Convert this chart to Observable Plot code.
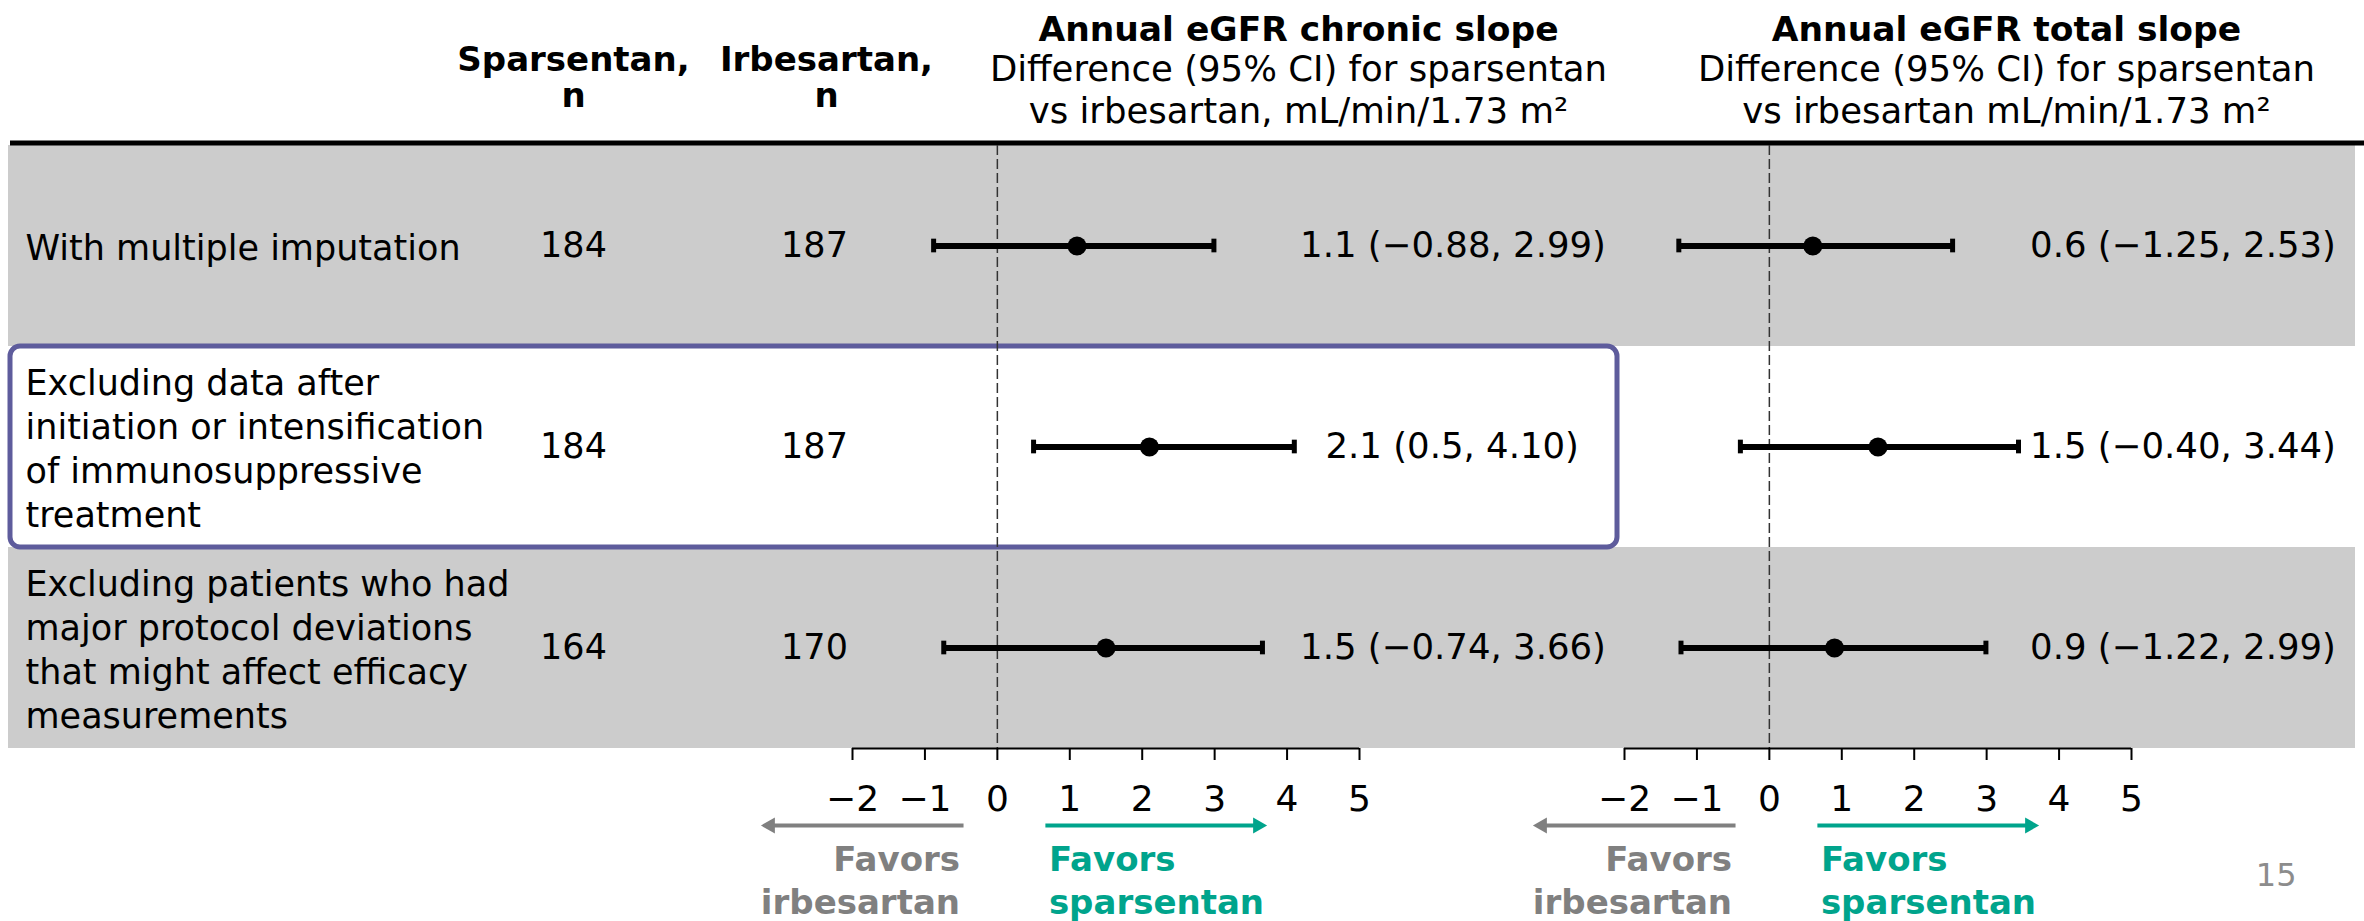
<!DOCTYPE html>
<html>
<head>
<meta charset="utf-8">
<script src="https://cdn.jsdelivr.net/npm/d3@7"></script>
<script src="https://cdn.jsdelivr.net/npm/@observablehq/plot@0.6"></script>
<style>
  html, body { margin: 0; padding: 0; background: #fff; }
  #chart { width: 2364px; height: 921px; }
</style>
</head>
<body>
<div id="chart"></div>
<script>
// Sensitivity analyses of the annual eGFR slopes, sparsentan vs irbesartan
const analyses = [
  "With multiple imputation",
  "Excluding data after\ninitiation or intensification\nof immunosuppressive\ntreatment",
  "Excluding patients who had\nmajor protocol deviations\nthat might affect efficacy\nmeasurements"
];
const sparsentanN = [184, 184, 164];
const irbesartanN = [187, 187, 170];

// Differences (95% CI), mL/min/1.73 m², kept to the precision they are reported with
const chronicEstimate = ["1.1", "2.1", "1.5"];
const chronicLower = ["-0.88", "0.5", "-0.74"];
const chronicUpper = ["2.99", "4.10", "3.66"];
const totalEstimate = ["0.6", "1.5", "0.9"];
const totalLower = ["-1.25", "-0.40", "-1.22"];
const totalUpper = ["2.53", "3.44", "2.99"];

const xTicks = [-2, -1, 0, 1, 2, 3, 4, 5];
const panels = ["chronic", "total"];
const panelTitles = ["Annual eGFR chronic slope", "Annual eGFR total slope"];
const panelSubtitles = [
  "Difference (95% CI) for sparsentan\nvs irbesartan, mL/min/1.73 m²",
  "Difference (95% CI) for sparsentan\nvs irbesartan mL/min/1.73 m²"
];
const columnHeads = ["Sparsentan,\nn", "Irbesartan,\nn"];
const favorsLabels = ["Favors\nirbesartan", "Favors\nsparsentan"];
const pageNumber = "15";

// ---- tables built from the arrays above ----
const minus = s => s.replace("-", "\u2212");
const rows = analyses.map((label, i) => ({row: i + 1, label, nS: sparsentanN[i], nI: irbesartanN[i]}));
const estimates = panels.flatMap((panel, p) => {
  const [E, L, U] = p === 0
    ? [chronicEstimate, chronicLower, chronicUpper]
    : [totalEstimate, totalLower, totalUpper];
  return analyses.map((_, i) => ({
    panel, row: i + 1,
    est: +E[i], lo: +L[i], hi: +U[i],
    text: `${E[i]} (${minus(L[i])}, ${minus(U[i])})`
  }));
});
const whiskerEnds = estimates.flatMap(d => [{...d, x: d.lo}, {...d, x: d.hi}]);

// ---- layout ----
const W = 2364, H = 921;
const frameTop = 145, frameBottom = 748;
const left = 852, panelW = 507, gap = 265;
const right = W - (left + 2 * panelW + gap);
const panelLeft = {chronic: left, total: left + panelW + gap};
const titleCenter = {chronic: 1298, total: 2006};
const labelAt = {chronic: 4.18, total: 3.6};
const labelGap = {chronic: 0.43, total: 0.1};
const cap = 0.034;
const grey = "#808080", teal = "#00a48c", boxColor = "#5e5c9c";
const first = () => "chronic";

const headerMarks = panels.flatMap((panel, p) => [
  Plot.text([panelTitles[p]], {
    fx: () => panel, frameAnchor: "top-left", textAnchor: "middle",
    dx: titleCenter[panel] - panelLeft[panel],
    dy: 40 - frameTop, lineAnchor: "bottom", fontWeight: "bold", fontSize: 34.5
  }),
  Plot.text([panelSubtitles[p]], {
    fx: () => panel, frameAnchor: "top-left", textAnchor: "middle",
    dx: titleCenter[panel] - panelLeft[panel],
    dy: 122 - frameTop, lineAnchor: "bottom", fontSize: 35.5, lineHeight: 1.16
  })
]);

const chart = Plot.plot({
  width: W,
  height: H,
  marginTop: frameTop,
  marginBottom: H - frameBottom,
  marginLeft: left,
  marginRight: right,
  style: {fontFamily: "'DejaVu Sans', sans-serif", color: "black", background: "white", overflow: "visible"},
  fx: {domain: panels, paddingInner: gap / (panelW + gap), paddingOuter: 0, round: false, axis: null},
  x: {domain: [-2, 5], axis: null},
  y: {domain: [0.5, 3.5], reverse: true, axis: null},
  marks: [
    // shaded rows spanning the whole table
    Plot.rect(rows.filter(d => d.row !== 2), {
      fx: first, y1: d => d.row - 0.5, y2: d => d.row + 0.5, fill: "#cccccc",
      insetLeft: -(left - 8), insetRight: -(W - 9 - left - panelW)
    }),
    // heavy rule under the column headers
    Plot.ruleY([0.5], {
      fx: first, stroke: "black", strokeWidth: 5, dy: -2.5,
      insetLeft: -(left - 10), insetRight: -(W - left - panelW)
    }),
    // outline around the second analysis
    Plot.rect([2], {
      fx: first, y1: d => d - 0.5, y2: d => d + 0.5, fill: "none",
      stroke: boxColor, strokeWidth: 5, rx: 10,
      insetLeft: -(left - 10), insetRight: -(1617 - left - panelW)
    }),
    // line of no difference
    Plot.ruleX([0], {stroke: "#333", strokeWidth: 1.5, strokeDasharray: "10,4"}),
    // axis
    Plot.ruleY([3.5], {x1: -2, x2: 5, stroke: "black", strokeWidth: 2}),
    Plot.axisX({
      ticks: xTicks, tickFormat: d => d < 0 ? `\u2212${-d}` : `${d}`,
      tickSize: 12, tickPadding: 25, fontSize: 36, strokeWidth: 2, label: null
    }),
    // confidence intervals and point estimates
    Plot.ruleY(estimates, {fx: "panel", y: "row", x1: "lo", x2: "hi", stroke: "black", strokeWidth: 6}),
    Plot.ruleX(whiskerEnds, {fx: "panel", x: "x", y1: d => d.row - cap, y2: d => d.row + cap, stroke: "black", strokeWidth: 5}),
    Plot.dot(estimates, {fx: "panel", x: "est", y: "row", r: 9.5, fill: "black"}),
    Plot.text(estimates, {
      fx: "panel", x: d => Math.max(labelAt[d.panel], d.hi + labelGap[d.panel]), y: "row",
      text: "text", textAnchor: "start", fontSize: 35.5
    }),
    // analysis names and sample sizes
    Plot.text(rows, {fx: first, y: "row", text: "label", frameAnchor: "left", dx: 25 - left, textAnchor: "start", fontSize: 35, lineHeight: 1.25}),
    Plot.text(rows, {fx: first, y: "row", text: "nS", frameAnchor: "left", textAnchor: "middle", dx: 573 - left, fontSize: 35}),
    Plot.text(rows, {fx: first, y: "row", text: "nI", frameAnchor: "left", textAnchor: "middle", dx: 814 - left, fontSize: 35}),
    // column headers
    Plot.text([columnHeads[0]], {fx: first, frameAnchor: "top-left", textAnchor: "middle", dx: 573 - left, dy: 106 - frameTop, lineAnchor: "bottom", fontWeight: "bold", fontSize: 34, lineHeight: 1.04}),
    Plot.text([columnHeads[1]], {fx: first, frameAnchor: "top-left", textAnchor: "middle", dx: 826 - left, dy: 106 - frameTop, lineAnchor: "bottom", fontWeight: "bold", fontSize: 34, lineHeight: 1.04}),
    ...headerMarks,
    // direction arrows under each axis
    Plot.ruleY([3.5], {x1: -3.26, x2: -0.46, dy: 77, stroke: grey, strokeWidth: 4, insetLeft: 8}),
    Plot.dot([3.5], {x: -3.26, y: d => d, dy: 77, dx: 9, symbol: "triangle", rotate: -90, r: 6, fill: grey}),
    Plot.ruleY([3.5], {x1: 0.67, x2: 3.72, dy: 77, stroke: teal, strokeWidth: 4, insetRight: 8}),
    Plot.dot([3.5], {x: 3.72, y: d => d, dy: 77, dx: -9, symbol: "triangle", rotate: 90, r: 6, fill: teal}),
    Plot.text([favorsLabels[0]], {x: -0.46, frameAnchor: "bottom", dx: -4, dy: 913 - frameBottom, lineAnchor: "bottom", textAnchor: "end", fill: grey, fontWeight: "bold", fontSize: 34, lineHeight: 1.26}),
    Plot.text([favorsLabels[1]], {x: 0.67, frameAnchor: "bottom", dx: 3, dy: 913 - frameBottom, lineAnchor: "bottom", textAnchor: "start", fill: teal, fontWeight: "bold", fontSize: 34, lineHeight: 1.26}),
    // page number
    Plot.text([pageNumber], {fx: () => "total", frameAnchor: "bottom-right", dx: 2296 - (W - right), dy: 885 - frameBottom, lineAnchor: "bottom", textAnchor: "end", fill: "#8c8c8c", fontSize: 32})
  ]
});

document.getElementById("chart").append(chart);
</script>
</body>
</html>
